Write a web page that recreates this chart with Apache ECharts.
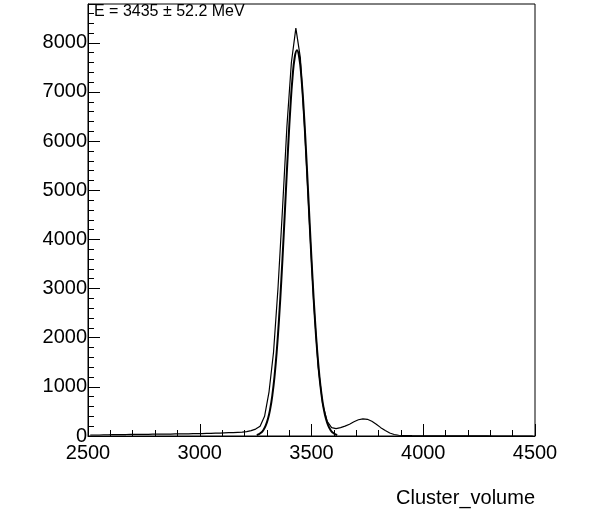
<!DOCTYPE html>
<html><head><meta charset="utf-8">
<script src="https://cdn.jsdelivr.net/npm/echarts@6/dist/echarts.min.js"></script>
<style>html,body{margin:0;background:#fff}#c{width:590px;height:518px}</style>
</head><body><div id="c"></div>
<script>
// histogram: bins of width 20 starting at 2500
const binStart = 2500;
const binWidth = 20;
const counts = [
  20, 20, 20, 25, 25, 30, 30, 30, 30, 35,
  35, 35, 35, 35, 40, 40, 40, 40, 40, 45,
  45, 45, 45, 50, 50, 50, 55, 55, 60, 60,
  65, 70, 70, 75, 80, 90, 110, 140, 200, 400,
  900, 1700, 3000, 4600, 6300, 7600, 8300, 7700, 6200, 4400,
  2700, 1400, 650, 300, 170, 150, 170, 200, 240, 290,
  330, 350, 340, 300, 240, 170, 110, 60, 30, 15,
  10, 8, 6, 5, 5, 4, 4, 3, 3, 3,
  2, 2, 2, 2, 1, 1, 1, 1, 1, 1,
  0, 0, 0, 0, 0, 0, 0, 0, 0, 0
];
// gaussian fit sampled every 10
const fitX = [3255,3265,3275,3285,3295,3305,3315,3325,3335,3345,3355,3365,3375,3385,3395,3405,3415,3425,3435,
  3445,3455,3465,3475,3485,3495,3505,3515,3525,3535,3545,3555,3565,3575,3585,3595,3605,3615];
const fitY = [20,38,69,122,209,345,547,837,1235,1755,2404,3172,4035,4945,5839,6647,7290,7706,7850,
  7706,7290,6647,5839,4945,4035,3172,2404,1755,1235,837,547,345,209,122,69,38,20];
const titleText = 'E = 3435 \u00b1 52.2 MeV';

const histPts = counts.map((v, i) => [binStart + (i + 0.5) * binWidth, v]);
const fitPts = fitX.map((x, i) => [x, fitY[i]]);

const font = 'Liberation Sans, Arial, sans-serif';
const chart = echarts.init(document.getElementById('c'));
chart.setOption({
  animation: false,
  grid: { left: 88, right: 55, top: 4, bottom: 82, show: true, borderColor: '#000', borderWidth: 1 },
  title: { text: titleText, left: 89, top: -1, textStyle: { fontFamily: font, fontSize: 16, fontWeight: 'normal', color: '#000' } },
  xAxis: {
    type: 'value', min: 2500, max: 4500, interval: 500,
    name: 'Cluster_volume', nameLocation: 'end', nameGap: 0,
    nameTextStyle: { fontFamily: font, fontSize: 20, color: '#000', align: 'right', verticalAlign: 'top', padding: [52, 0, 0, 0] },
    axisLine: { lineStyle: { color: '#000' } },
    axisTick: { inside: true, length: 12, lineStyle: { color: '#000' } },
    minorTick: { show: true, splitNumber: 5, length: 6, lineStyle: { color: '#000' } },
    axisLabel: { fontFamily: font, fontSize: 20, color: '#000', margin: 7, formatter: v => String(v) },
    splitLine: { show: false }
  },
  yAxis: {
    type: 'value', min: 0, max: 8790, interval: 1000,
    axisLine: { lineStyle: { color: '#000' } },
    axisTick: { inside: true, length: 12, lineStyle: { color: '#000' } },
    minorTick: { show: true, splitNumber: 5, length: 6, lineStyle: { color: '#000' } },
    axisLabel: { fontFamily: font, fontSize: 20, color: '#000', margin: 1, showMaxLabel: false, formatter: v => String(v) },
    splitLine: { show: false }
  },
  series: [
    { type: 'line', data: histPts, symbol: 'none', lineStyle: { color: '#000', width: 1.2 } },
    { type: 'line', data: fitPts, symbol: 'none', smooth: true, lineStyle: { color: '#000', width: 2 } }
  ]
});
</script></body></html>
